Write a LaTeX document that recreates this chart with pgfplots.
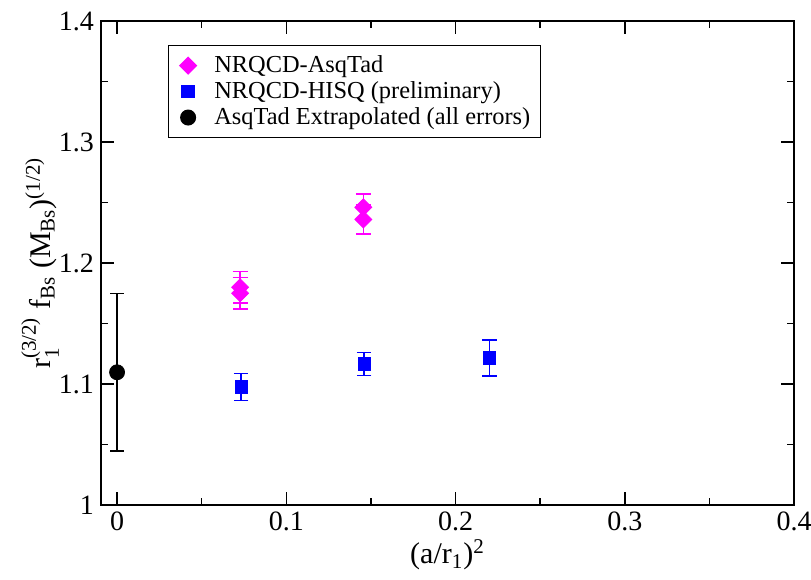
\documentclass[border=0pt]{standalone}
\usepackage{fontspec}
\setmainfont{Liberation Serif}
\usepackage{amsmath}
\usepackage{pgfplots}
\pgfplotsset{compat=1.18}
\usetikzlibrary{calc}
\definecolor{gmag}{RGB}{255,0,255}
\definecolor{gblue}{RGB}{0,0,255}

\begin{document}
\begin{tikzpicture}
\begin{axis}[
    name=ax,
    scale only axis,
    width=346.5pt, height=242pt,
    xmin=-0.0095, xmax=0.4,
    ymin=1, ymax=1.4,
    xtick={0,0.1,0.2,0.3,0.4},
    ytick={1,1.1,1.2,1.3,1.4},
    minor x tick num=1,
    minor y tick num=1,
    tick align=inside,
    major tick length=6.5pt,
    minor tick length=3.5pt,
    axis line style={line width=1pt},
    every tick/.style={black, line width=0.8pt},
    /pgf/number format/assume math mode=true,
    ticklabel style={font=\fontsize{14}{16}\selectfont},
    label style={font=\fontsize{15}{18}\selectfont},
    xlabel={(a/r$_{\text{1}}$)$^{\text{2}}$},
    ylabel={r$_{\text{1}}^{\text{(3/2)}}$ f$_{\text{Bs}}$ (M$_{\text{Bs}}$)$^{\text{(1/2)}}$},
    xlabel style={at={(axis description cs:0.5,-0.103)}, anchor=center},
    ylabel style={at={(axis description cs:-0.088,0.5)}, anchor=center},
    legend style={at={(0.0967,0.95)}, anchor=north west, draw=black, line width=0.5pt,
        font=\fontsize{12.2}{13}\selectfont, row sep=-1pt, inner xsep=3.3pt, inner ysep=3pt},
    legend cell align=left,
    legend image code/.code={\path (0cm,0cm) (0.6cm,0cm); \draw[#1] plot coordinates {(0.22cm,0cm)};},
]
% NRQCD-AsqTad
\addplot[only marks, gmag, mark=square*, mark size=3pt, mark options={rotate=45},
    error bars/.cd, y dir=both, y explicit,
    error bar style={line width=0.75pt},
    error mark options={rotate=90, mark size=3.75pt, line width=0.75pt}]
    table[x=x, y=y, y error=e] {
x      y      e
0.0727 1.180  0.013
0.0727 1.175  0.013
0.1455 1.246  0.011
0.1455 1.236  0.012
};
% NRQCD-HISQ
\addplot[only marks, gblue, mark=square*, mark size=3.1pt,
    error bars/.cd, y dir=both, y explicit,
    error bar style={line width=0.75pt},
    error mark options={rotate=90, mark size=3.6pt, line width=0.75pt}]
    table[x=x, y=y, y error=e] {
x      y       e
0.0733 1.0975  0.011
0.1460 1.1165  0.0095
0.2200 1.1215  0.015
};
% AsqTad extrapolated
\addplot[only marks, black, mark=*, mark size=3.75pt,
    error bars/.cd, y dir=both, y explicit,
    error bar style={line width=0.6pt},
    error mark options={rotate=90, mark size=3.3pt, line width=0.6pt}]
    table[x=x, y=y, y error=e] {
x      y       e
0      1.1097  0.065
};
\legend{}
\addlegendimage{only marks, gmag, mark=diamond*, mark size=3.65pt}
\addlegendentry{NRQCD-AsqTad}
\addlegendimage{only marks, gblue, mark=square*, mark size=2.25pt}
\addlegendentry{NRQCD-HISQ (preliminary)}
\addlegendimage{only marks, black, mark=*, mark size=2.75pt}
\addlegendentry{AsqTad Extrapolated (all errors)}
\end{axis}
\pgfresetboundingbox
\path[use as bounding box] ($(ax.south west)+(-50.5pt,-37pt)$) rectangle ($(ax.north east)+(8.5pt,10.5pt)$);
\end{tikzpicture}
\end{document}
